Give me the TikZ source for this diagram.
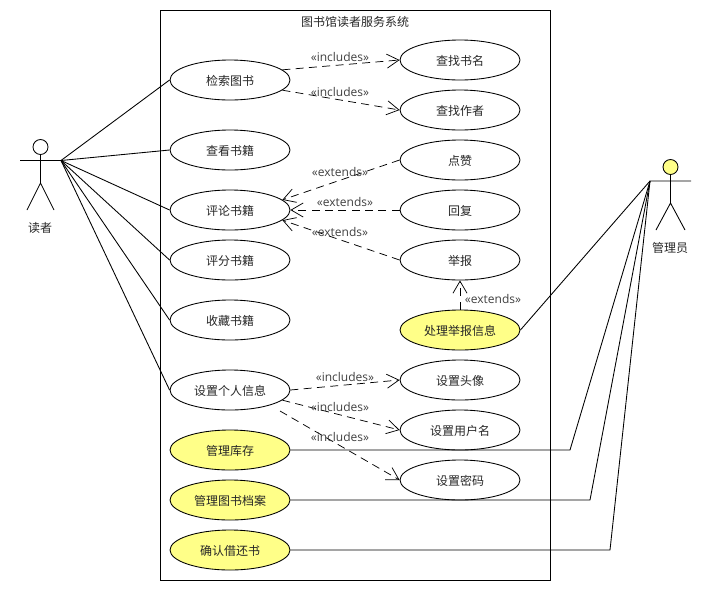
\documentclass[tikz,border=0pt]{standalone}
\usepackage{fontspec}
\setmainfont{Open Sans}
\newfontfamily\cjk{Noto Sans CJK SC}
\usetikzlibrary{shapes.geometric,arrows.meta}
\definecolor{yellowuc}{HTML}{FFFF88}
\tikzset{
  uc/.style={ellipse,draw=black,fill=white,line width=0.65pt,minimum width=90pt,minimum height=30pt,inner sep=0pt,text height=9pt,text depth=1pt,font=\cjk\fontsize{9}{11}\selectfont,text=black!85},
  ucy/.style={uc,fill=yellowuc},
  lbl/.style={inner sep=0pt,font=\fontsize{9}{11}\selectfont,text=black!75},
  cjklbl/.style={inner sep=0pt,font=\cjk\fontsize{9}{11}\selectfont,text=black!85},
  dep/.style={line width=0.55pt,dash pattern=on 6pt off 4pt,-{Straight Barb[length=9pt,width=10.5pt,line width=0.55pt]}},
  assoc/.style={line width=0.65pt},
  actorhead/.style={circle,draw=black,line width=0.65pt,minimum size=11.25pt,inner sep=0pt}
}
\begin{document}
\begin{tikzpicture}[x=0.75pt,y=-0.75pt,line width=0.65pt]
\useasboundingbox (0,0) rectangle (710,590);
\node[draw=black,line width=0.7pt,minimum width=292.5pt,minimum height=427.5pt,inner sep=0pt] (sys) at (355,295) {};
\node[cjklbl] (title) at (355,22) {图书馆读者服务系统};
% left column
\node[uc] (a1) at (230,80) {检索图书};
\node[uc] (a2) at (230,150) {查看书籍};
\node[uc] (a3) at (230,210) {评论书籍};
\node[uc] (a4) at (230,260) {评分书籍};
\node[uc] (a5) at (230,320) {收藏书籍};
\node[uc] (a6) at (230,390) {设置个人信息};
\node[ucy] (a7) at (230,450) {管理库存};
\node[ucy] (a8) at (230,500) {管理图书档案};
\node[ucy] (a9) at (230,550) {确认借还书};
% right column
\node[uc] (b1) at (460,60) {查找书名};
\node[uc] (b2) at (460,110) {查找作者};
\node[uc] (b3) at (460,160) {点赞};
\node[uc] (b4) at (460,210) {回复};
\node[uc] (b5) at (460,260) {举报};
\node[ucy] (b6) at (460,330) {处理举报信息};
\node[uc] (b7) at (460,380) {设置头像};
\node[uc] (b8) at (460,430) {设置用户名};
\node[uc] (b9) at (460,480) {设置密码};
% reader actor
\node[actorhead] (h1) at (40.5,147) {};
\coordinate (n1) at (40.5,183);
\coordinate (al1) at (20,160.5);
\coordinate (ar1) at (61,160.5);
\coordinate (ll1) at (27,210);
\coordinate (lr1) at (54,210);
\draw (h1) -- (n1) -- (ll1) (n1) -- (lr1) (al1) -- (ar1);
\node[cjklbl] (t1) at (40,228) {读者};
% admin actor
\node[actorhead,fill=yellowuc] (h2) at (670.5,167) {};
\coordinate (n2) at (670.5,203);
\coordinate (al2) at (650,181);
\coordinate (ar2) at (691,181);
\coordinate (ll2) at (656,230);
\coordinate (lr2) at (685,230);
\draw (h2) -- (n2) -- (ll2) (n2) -- (lr2) (al2) -- (ar2);
\node[cjklbl] (t2) at (670,247.5) {管理员};
% associations
\foreach \n in {a1,a2,a3,a4,a5,a6}{\draw[assoc] (ar1) -- (\n.west);}
\draw[assoc] (b6.east) -- (al2);
\coordinate (c7) at (570,450);
\coordinate (c8) at (590,500);
\coordinate (c9) at (610,550);
\draw[assoc] (a7.east) -- (c7) -- (al2);
\draw[assoc] (a8.east) -- (c8) -- (al2);
\draw[assoc] (a9.east) -- (c9) -- (al2);
% dependencies
\coordinate (s9) at (280,411);
\draw[dep] (a1.11) -- (b1.west);
\draw[dep] (a1.-11) -- (b2.west);
\draw[dep] (b3.west) -- (a3.11);
\draw[dep] (b4.west) -- (a3.east);
\draw[dep] (b5.west) -- (a3.-11);
\draw[dep] (b6.north) -- (b5.south);
\draw[dep] (a6.east) -- (b7.west);
\draw[dep] (a6.-11) -- (b8.west);
\draw[dep] (s9) -- (b9.west);
% labels
\node[lbl] (i1) at (340,57) {«includes»};
\node[lbl] (i2) at (340,92) {«includes»};
\node[lbl] (e1) at (340,172) {«extends»};
\node[lbl] (e2) at (345,202) {«extends»};
\node[lbl] (e3) at (340,232) {«extends»};
\node[lbl] (e4) at (493,299) {«extends»};
\node[lbl] (i3) at (345,377) {«includes»};
\node[lbl] (i4) at (340,407) {«includes»};
\node[lbl] (i5) at (340,437) {«includes»};
\end{tikzpicture}
\end{document}
